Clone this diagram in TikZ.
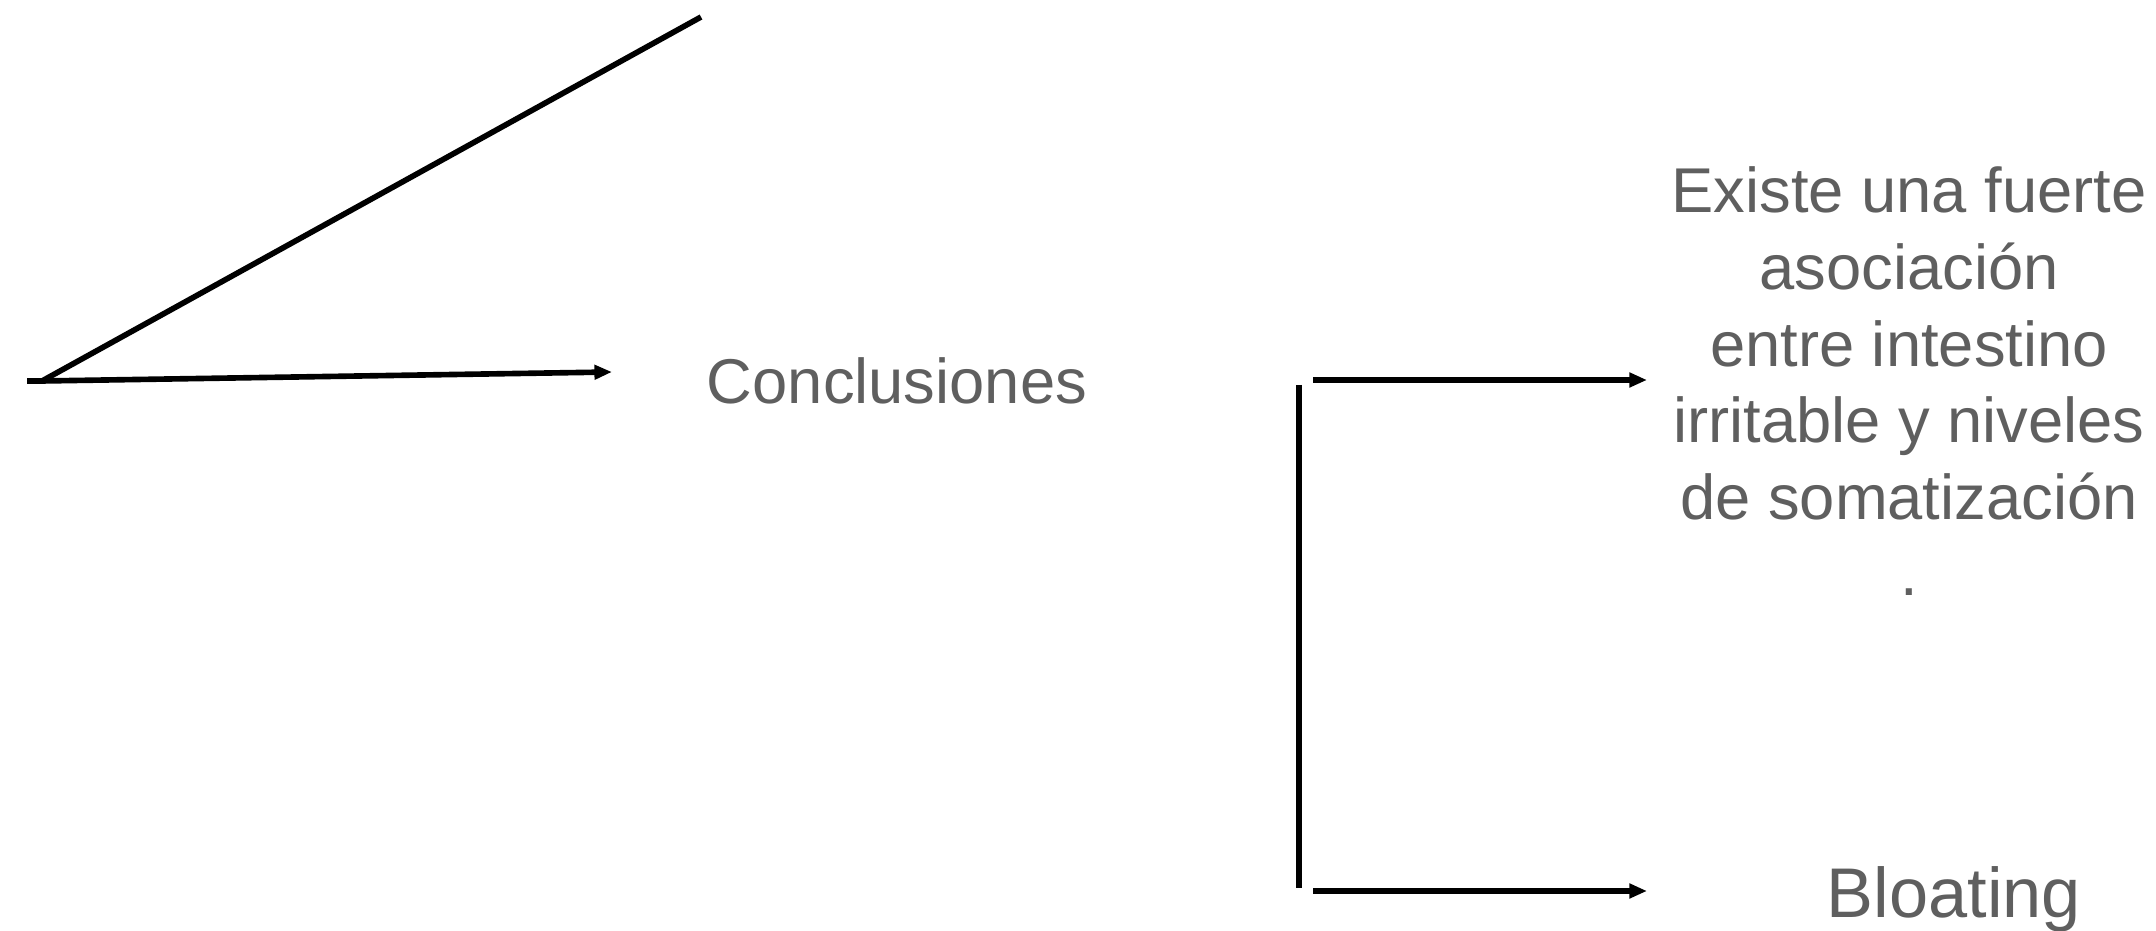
\documentclass[tikz,border=0pt]{standalone}
\usepackage{fontspec}
\setmainfont{Liberation Sans}
\usepackage{tikz}
\usetikzlibrary{arrows.meta,positioning}

\definecolor{textgray}{HTML}{5F5F5F}

\begin{document}
\begin{tikzpicture}[>={Triangle[length=5pt,width=4pt]},line width=1.6pt,x=0.01cm,y=-0.01cm]

\useasboundingbox (0,0) rectangle (2156,931);

% Text labels
\node[textgray,anchor=base,inner sep=0pt,font=\fontsize{18}{21.8}\selectfont] (concl) at (897,404) {Conclusiones};
\node[textgray,anchor=base,inner sep=0pt,align=center,font=\fontsize{18}{21.8}\selectfont] (assoc) at (1909,596)
  {Existe una fuerte\\asociación\\entre intestino\\irritable y niveles\\de somatización\\.};
\node[textgray,anchor=base,inner sep=0pt,font=\fontsize{20}{24}\selectfont] (bloat) at (1954,918) {Bloating};

% Left wedge
\coordinate (stub) at (27,381);
\coordinate (apex) at (42,381);
\coordinate (top) at (701,17);
\coordinate (tipC) at (612,372);
\draw (stub) -- (apex);
\draw (apex) -- (top);
\draw[->] (apex) -- (tipC);

% Bracket with two arrows
\coordinate (brTop) at (1299,385);
\coordinate (brBot) at (1299,888);
\coordinate (aTop) at (1313,380);
\coordinate (aTopEnd) at (1647,380);
\coordinate (aBot) at (1313,891);
\coordinate (aBotEnd) at (1647,891);
\draw (brTop) -- (brBot);
\draw[->] (aTop) -- (aTopEnd);
\draw[->] (aBot) -- (aBotEnd);

\end{tikzpicture}
\end{document}
